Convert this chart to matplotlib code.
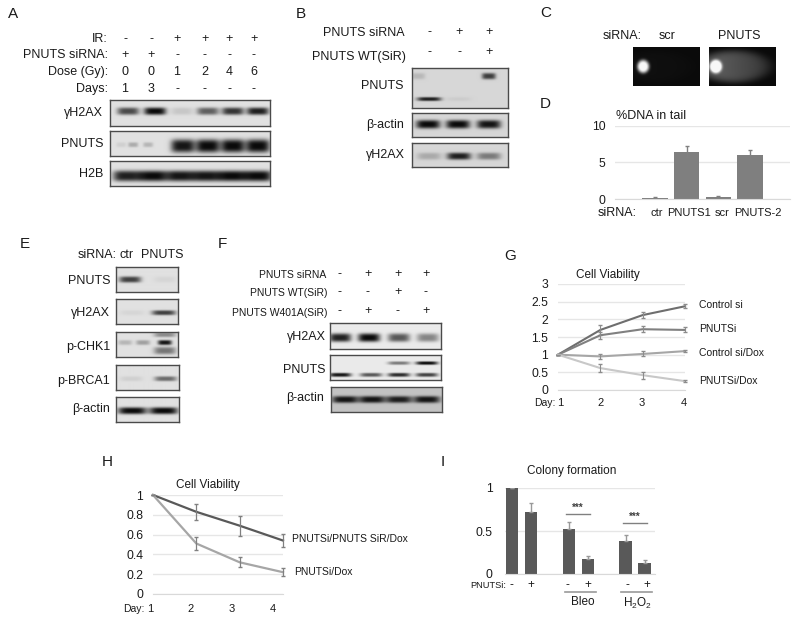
import numpy as np
import matplotlib
matplotlib.use('Agg')
import matplotlib.pyplot as plt

plt.rcParams['font.family'] = ['Liberation Sans', 'DejaVu Sans']
plt.rcParams['mathtext.default'] = 'regular'

W, H = 800, 623

# Band darkness per lane, read from the blots
a_gh2ax = [0.7, 1.0, 0.12, 0.6, 0.8, 0.9]
a_pnuts_faint = [0.08, 0.25, 0.2]
a_pnuts = [0.95, 1.0, 1.0, 1.0]
a_h2b = [0.9, 1.0, 0.95, 0.95, 1.0, 1.0]
b_pnuts_low = [0.9, 0.05]
b_pnuts_high = [0.15, 0.75]
b_actin = [1.0, 1.0, 0.95]
b_gh2ax = [0.22, 0.9, 0.45]
e_pnuts = [0.75, 0.05]
e_gh2ax = [0.05, 0.75]
e_chk1_mid = [0.2, 0.3, 0.95]
e_chk1_top = [0.0, 0.0, 0.4]
e_chk1_low = [0.0, 0.0, 0.5]
e_brca1 = [0.08, 0.55]
e_actin = [1.0, 1.0]
f_gh2ax = [0.9, 1.0, 0.65, 0.45]
f_pnuts_low = [0.95, 0.65, 0.85, 0.75]
f_pnuts_high = [0.0, 0.0, 0.5, 1.0]
f_actin = [0.95, 0.95, 0.9, 0.95]

# Comet assay tail brightness
comet_tail = [0.02, 0.3]

# Panel D
d_values = [0.15, 6.5, 0.25, 6.05]
d_errors = [0.1, 0.7, 0.1, 0.6]
d_labels = ['ctr', 'PNUTS1', 'scr', 'PNUTS-2']

# Panel G
days = [1, 2, 3, 4]
g_control = [1, 1.7, 2.12, 2.37]
g_pnutsi = [1, 1.55, 1.72, 1.7]
g_control_dox = [1, 0.95, 1.02, 1.1]
g_pnutsi_dox = [1, 0.62, 0.42, 0.25]
g_control_err = [0, 0.13, 0.08, 0.05]
g_pnutsi_err = [0, 0.1, 0.08, 0.07]
g_control_dox_err = [0, 0.08, 0.07, 0.03]
g_pnutsi_dox_err = [0, 0.11, 0.1, 0.02]

# Panel H
h_rescue = [1, 0.83, 0.69, 0.54]
h_pnutsi = [1, 0.51, 0.32, 0.22]
h_rescue_err = [0, 0.08, 0.1, 0.07]
h_pnutsi_err = [0, 0.07, 0.05, 0.04]

# Panel I
i_values = [1, 0.72, 0.52, 0.18, 0.38, 0.13]
i_errors = [0, 0.11, 0.09, 0.03, 0.07, 0.03]
i_signs = ['-', '+', '-', '+', '-', '+']

fig = plt.figure(figsize=(W / 100, H / 100), dpi=100)


def ax_px(x0, y0, x1, y1):
    # axes from pixel box, y counted from the top
    return fig.add_axes([x0 / W, 1 - y1 / H, (x1 - x0) / W, (y1 - y0) / H])


def txt(x, y, s, ha='left', size=9, color='#1a1a1a', **kw):
    fig.text(x / W, 1 - y / H, s, ha=ha, va='center', fontsize=size, color=color, **kw)


def blot(box, rows, bg=0.84):
    # rows: (y fraction, darkness per lane, lane centres in px, half width, half height)
    x0, y0, x1, y1 = box
    nx, ny = int((x1 - x0) * 2), int((y1 - y0) * 2)
    xx = np.linspace(x0, x1, nx)
    yy = np.linspace(0, 1, ny)
    X, Y = np.meshgrid(xx, yy)
    dark = np.zeros_like(X)
    for yf, vals, lanes, hw, hh in rows:
        for v, cx in zip(vals, lanes):
            dark += v * np.exp(-((X - cx) / hw) ** 4) * np.exp(-np.abs((Y - yf) / hh) ** 3)
    img = bg * (1 - np.clip(dark, 0, 1)) + 0.04
    ax = ax_px(*box)
    ax.imshow(img, cmap='gray', vmin=0, vmax=1, aspect='auto')
    ax.set_xticks([])
    ax.set_yticks([])
    for s in ax.spines.values():
        s.set_color('#4a4a4a')
        s.set_linewidth(1)
    return ax


def comet(box, tail, head_x):
    xx = np.linspace(0, 1, 134)
    yy = np.linspace(0, 1, 78)
    X, Y = np.meshgrid(xx, yy)
    head = np.exp(-(((X - head_x) / 0.09) ** 2 + ((Y - 0.5) / 0.17) ** 2) ** 2)
    body = np.exp(-(((X - 0.38) / 0.55) ** 2 + ((Y - 0.5) / 0.42) ** 2) ** 3) * (1.15 - 0.6 * X)
    img = np.clip(0.04 + tail * body + head, 0, 0.97)
    ax = ax_px(*box)
    ax.imshow(img, cmap='gray', vmin=0, vmax=1, aspect='auto')
    ax.axis('off')


def style_chart(ax):
    for s in ['top', 'right', 'left']:
        ax.spines[s].set_visible(False)
    ax.spines['bottom'].set_color('#d9d9d9')
    ax.grid(axis='y', color='#e6e6e6', lw=1)
    ax.set_axisbelow(True)
    ax.tick_params(length=0, labelsize=8.7, labelcolor='#1a1a1a', pad=7)
    ax.set_xticklabels([])
    ax.patch.set_alpha(0)


# Panel letters
for x, y, s in [(8, 14, 'A'), (296, 14, 'B'), (540, 13, 'C'), (540, 104, 'D'),
                (20, 244, 'E'), (218, 244, 'F'), (504, 256, 'G'), (102, 462, 'H'),
                (441, 462, 'I')]:
    txt(x, y, s, size=11)

# A
for y, s in [(39, 'IR:'), (55, 'PNUTS siRNA:'), (72, 'Dose (Gy):'), (89, 'Days:')]:
    txt(108, y, s, ha='right')
a_x = [125, 151, 177, 205, 229, 254]
for y, row in [(39, ['-', '-', '+', '+', '+', '+']), (55, ['+', '+', '-', '-', '-', '-']),
               (72, ['0', '0', '1', '2', '4', '6']), (89, ['1', '3', '-', '-', '-', '-'])]:
    for x, s in zip(a_x, row):
        txt(x, y, s, ha='center')
blot((110, 100, 270, 126), [(0.45, a_gh2ax, [128, 155, 182, 208, 233, 258], 11, 0.14)])
blot((110, 131, 270, 156), [(0.55, a_pnuts_faint, [121, 133, 148], 5, 0.1),
                            (0.6, a_pnuts, [183, 208, 233, 258], 12, 0.27)])
blot((110, 161, 270, 186), [(0.6, a_h2b, [127, 153, 180, 206, 232, 258], 14, 0.22)])
txt(103, 113, 'γH2AX', ha='right')
txt(103, 144, 'PNUTS', ha='right')
txt(103, 174, 'H2B', ha='right')

# B
txt(405, 33, 'PNUTS siRNA', ha='right')
txt(406, 57, 'PNUTS WT(SiR)', ha='right')
for x, a, b in zip([429, 459, 489], ['-', '+', '+'], ['-', '-', '+']):
    txt(x, 32, a, ha='center')
    txt(x, 52, b, ha='center')
blot((412, 68, 508, 108), [(0.78, b_pnuts_low, [429, 459], 12, 0.05),
                           (0.2, b_pnuts_high, [418, 489], 7, 0.08)], bg=0.8)
blot((412, 113, 508, 137), [(0.47, b_actin, [428, 458, 489], 12, 0.18)], bg=0.8)
blot((412, 143, 508, 167), [(0.55, b_gh2ax, [429, 459, 489], 12, 0.15)], bg=0.8)
txt(403, 86, 'PNUTS', ha='right')
txt(404, 125, 'β-actin', ha='right')
txt(405, 155, 'γH2AX', ha='right')

# C
txt(603, 36, 'siRNA:')
txt(667, 36, 'scr', ha='center')
txt(739, 36, 'PNUTS', ha='center')
comet((633, 47, 700, 86), comet_tail[0], 0.15)
comet((709, 47, 776, 86), comet_tail[1], 0.1)

# D
ax = ax_px(615, 126, 790, 199)
ax.bar(range(4), d_values, width=0.8, color='#7f7f7f')
ax.errorbar(range(4), d_values, yerr=d_errors, fmt='none', ecolor='#808080', elinewidth=1, capsize=1.5)
ax.set_xlim(-1.26, 4.26)
ax.set_ylim(0, 10)
ax.set_yticks([0, 5, 10])
ax.set_xticks(range(4))
style_chart(ax)
txt(616, 116, '%DNA in tail')
txt(598, 213, 'siRNA:')
for x, s in zip([657, 689, 722, 758], d_labels):
    txt(x, 213, s, ha='center', size=8)

# E
txt(78, 255, 'siRNA:')
txt(127, 255, 'ctr', ha='center')
txt(162, 255, 'PNUTS', ha='center')
blot((116, 267, 178, 292), [(0.52, e_pnuts, [130, 165], 11, 0.12)])
blot((116, 299, 178, 324), [(0.55, e_gh2ax, [132, 164], 12, 0.1)])
blot((116, 332, 178, 357), [(0.42, e_chk1_mid, [125, 143, 165], 7, 0.1),
                            (0.1, e_chk1_top, [125, 143, 165], 11, 0.1),
                            (0.75, e_chk1_low, [125, 143, 165], 11, 0.15)])
blot((116, 365, 179, 390), [(0.55, e_brca1, [131, 165], 11, 0.1)])
blot((116, 397, 179, 422), [(0.55, e_actin, [132, 163], 14, 0.14)])
for y, s in [(281, 'PNUTS'), (313, 'γH2AX'), (347, 'p-CHK1'), (381, 'p-BRCA1'), (409, 'β-actin')]:
    txt(110, y, s, ha='right')

# F
txt(326, 275, 'PNUTS siRNA', ha='right', size=7.5)
txt(328, 293, 'PNUTS WT(SiR)', ha='right', size=7.5)
txt(328, 313, 'PNUTS W401A(SiR)', ha='right', size=7.5)
f_x = [340, 368, 398, 426]
for y, row in [(274, ['-', '+', '+', '+']), (292, ['-', '-', '+', '-']), (311, ['-', '+', '-', '+'])]:
    for x, s in zip(f_x, row):
        txt(x, y, s, ha='center')
blot((330, 323, 441, 349), [(0.58, f_gh2ax, [340, 369, 399, 428], 11, 0.16)], bg=0.88)
blot((330, 355, 441, 380), [(0.8, f_pnuts_low, [340, 371, 399, 427], 11, 0.08),
                            (0.32, f_pnuts_high, [340, 371, 399, 427], 11, 0.07)], bg=0.88)
blot((331, 387, 442, 412), [(0.5, f_actin, [345, 372, 399, 427], 13, 0.14)], bg=0.72)
txt(326, 337, 'γH2AX', ha='right')
txt(325, 370, 'PNUTS', ha='right')
txt(324, 398, 'β-actin', ha='right')

# G
ax = ax_px(558, 284, 685, 390)
series_g = [(g_control, g_control_err, '#6e6e6e'), (g_pnutsi, g_pnutsi_err, '#808080'),
            (g_control_dox, g_control_dox_err, '#a6a6a6'), (g_pnutsi_dox, g_pnutsi_dox_err, '#c8c8c8')]
for vals, errs, col in series_g:
    ax.plot(days, vals, color=col, lw=1.5, clip_on=False)
    ax.errorbar(days, vals, yerr=errs, fmt='none', ecolor='#8c8c8c', elinewidth=0.8, capsize=1.5, clip_on=False)
ax.set_xlim(1, 4)
ax.set_ylim(0, 3)
ax.set_yticks([0, 0.5, 1, 1.5, 2, 2.5, 3], ['0', '0.5', '1', '1.5', '2', '2.5', '3'])
ax.set_xticks(days)
style_chart(ax)
txt(608, 275, 'Cell Viability', ha='center', size=8.5)
for y, s in [(305, 'Control si'), (329, 'PNUTSi'), (353, 'Control si/Dox'), (381, 'PNUTSi/Dox')]:
    txt(699, y, s, size=7.5)
txt(534, 403, 'Day:', size=7.5)
for x, s in zip([560, 601, 642, 684], days):
    txt(x, 403, str(s), ha='center', size=8)

# H
ax = ax_px(153, 495, 283, 594)
for vals, errs, col in [(h_rescue, h_rescue_err, '#595959'), (h_pnutsi, h_pnutsi_err, '#a6a6a6')]:
    ax.plot(days, vals, color=col, lw=1.6, clip_on=False)
    ax.errorbar(days, vals, yerr=errs, fmt='none', ecolor='#808080', elinewidth=0.9, capsize=1.5, clip_on=False)
ax.set_xlim(1, 4)
ax.set_ylim(0, 1)
ax.set_yticks([0, 0.2, 0.4, 0.6, 0.8, 1], ['0', '0.2', '0.4', '0.6', '0.8', '1'])
ax.set_xticks(days)
style_chart(ax)
txt(208, 485, 'Cell Viability', ha='center', size=8.5)
txt(292, 539, 'PNUTSi/PNUTS SiR/Dox', size=7.5)
txt(294, 572, 'PNUTSi/Dox', size=7.5)
txt(123, 609, 'Day:', size=7.5)
for x, s in zip([150, 191, 232, 273], days):
    txt(x, 609, str(s), ha='center', size=8)

# I
ax = ax_px(505, 488, 655, 574)
i_pos = [0, 1, 3, 4, 6, 7]
ax.bar(i_pos, i_values, width=0.68, color='#595959')
ax.errorbar(i_pos, i_values, yerr=[[0] * 6, i_errors], fmt='none', ecolor='#999999', elinewidth=1, capsize=1.2)
ax.set_xlim(-0.37, 7.53)
ax.set_ylim(0, 1)
ax.set_yticks([0, 0.5, 1], ['0', '0.5', '1'])
ax.set_xticks(i_pos)
style_chart(ax)
ax.tick_params(pad=9)
ax.plot([2.85, 4.1], [0.7, 0.7], color='#808080', lw=1)
ax.plot([5.85, 7.1], [0.595, 0.595], color='#808080', lw=1)
ax.text(3.47, 0.77, '***', ha='center', va='center', fontsize=7, fontweight='bold', color='#404040')
ax.text(6.47, 0.665, '***', ha='center', va='center', fontsize=7, fontweight='bold', color='#404040')
txt(572, 471, 'Colony formation', ha='center', size=8.5)
txt(470, 585, 'PNUTSi:', size=6.7)
for x, s in zip([511, 531, 567, 588, 627, 647], i_signs):
    txt(x, 585, s, ha='center', size=8.5)
fig.add_artist(plt.Line2D([565 / W, 596 / W], [1 - 592 / H] * 2, color='#999999', lw=1.2))
fig.add_artist(plt.Line2D([621 / W, 652 / W], [1 - 592 / H] * 2, color='#999999', lw=1.2))
txt(583, 602, 'Bleo', ha='center', size=8.5)
txt(638, 603, 'H$_2$O$_2$', ha='center', size=8.5)

fig.savefig('out.png', dpi=100)
